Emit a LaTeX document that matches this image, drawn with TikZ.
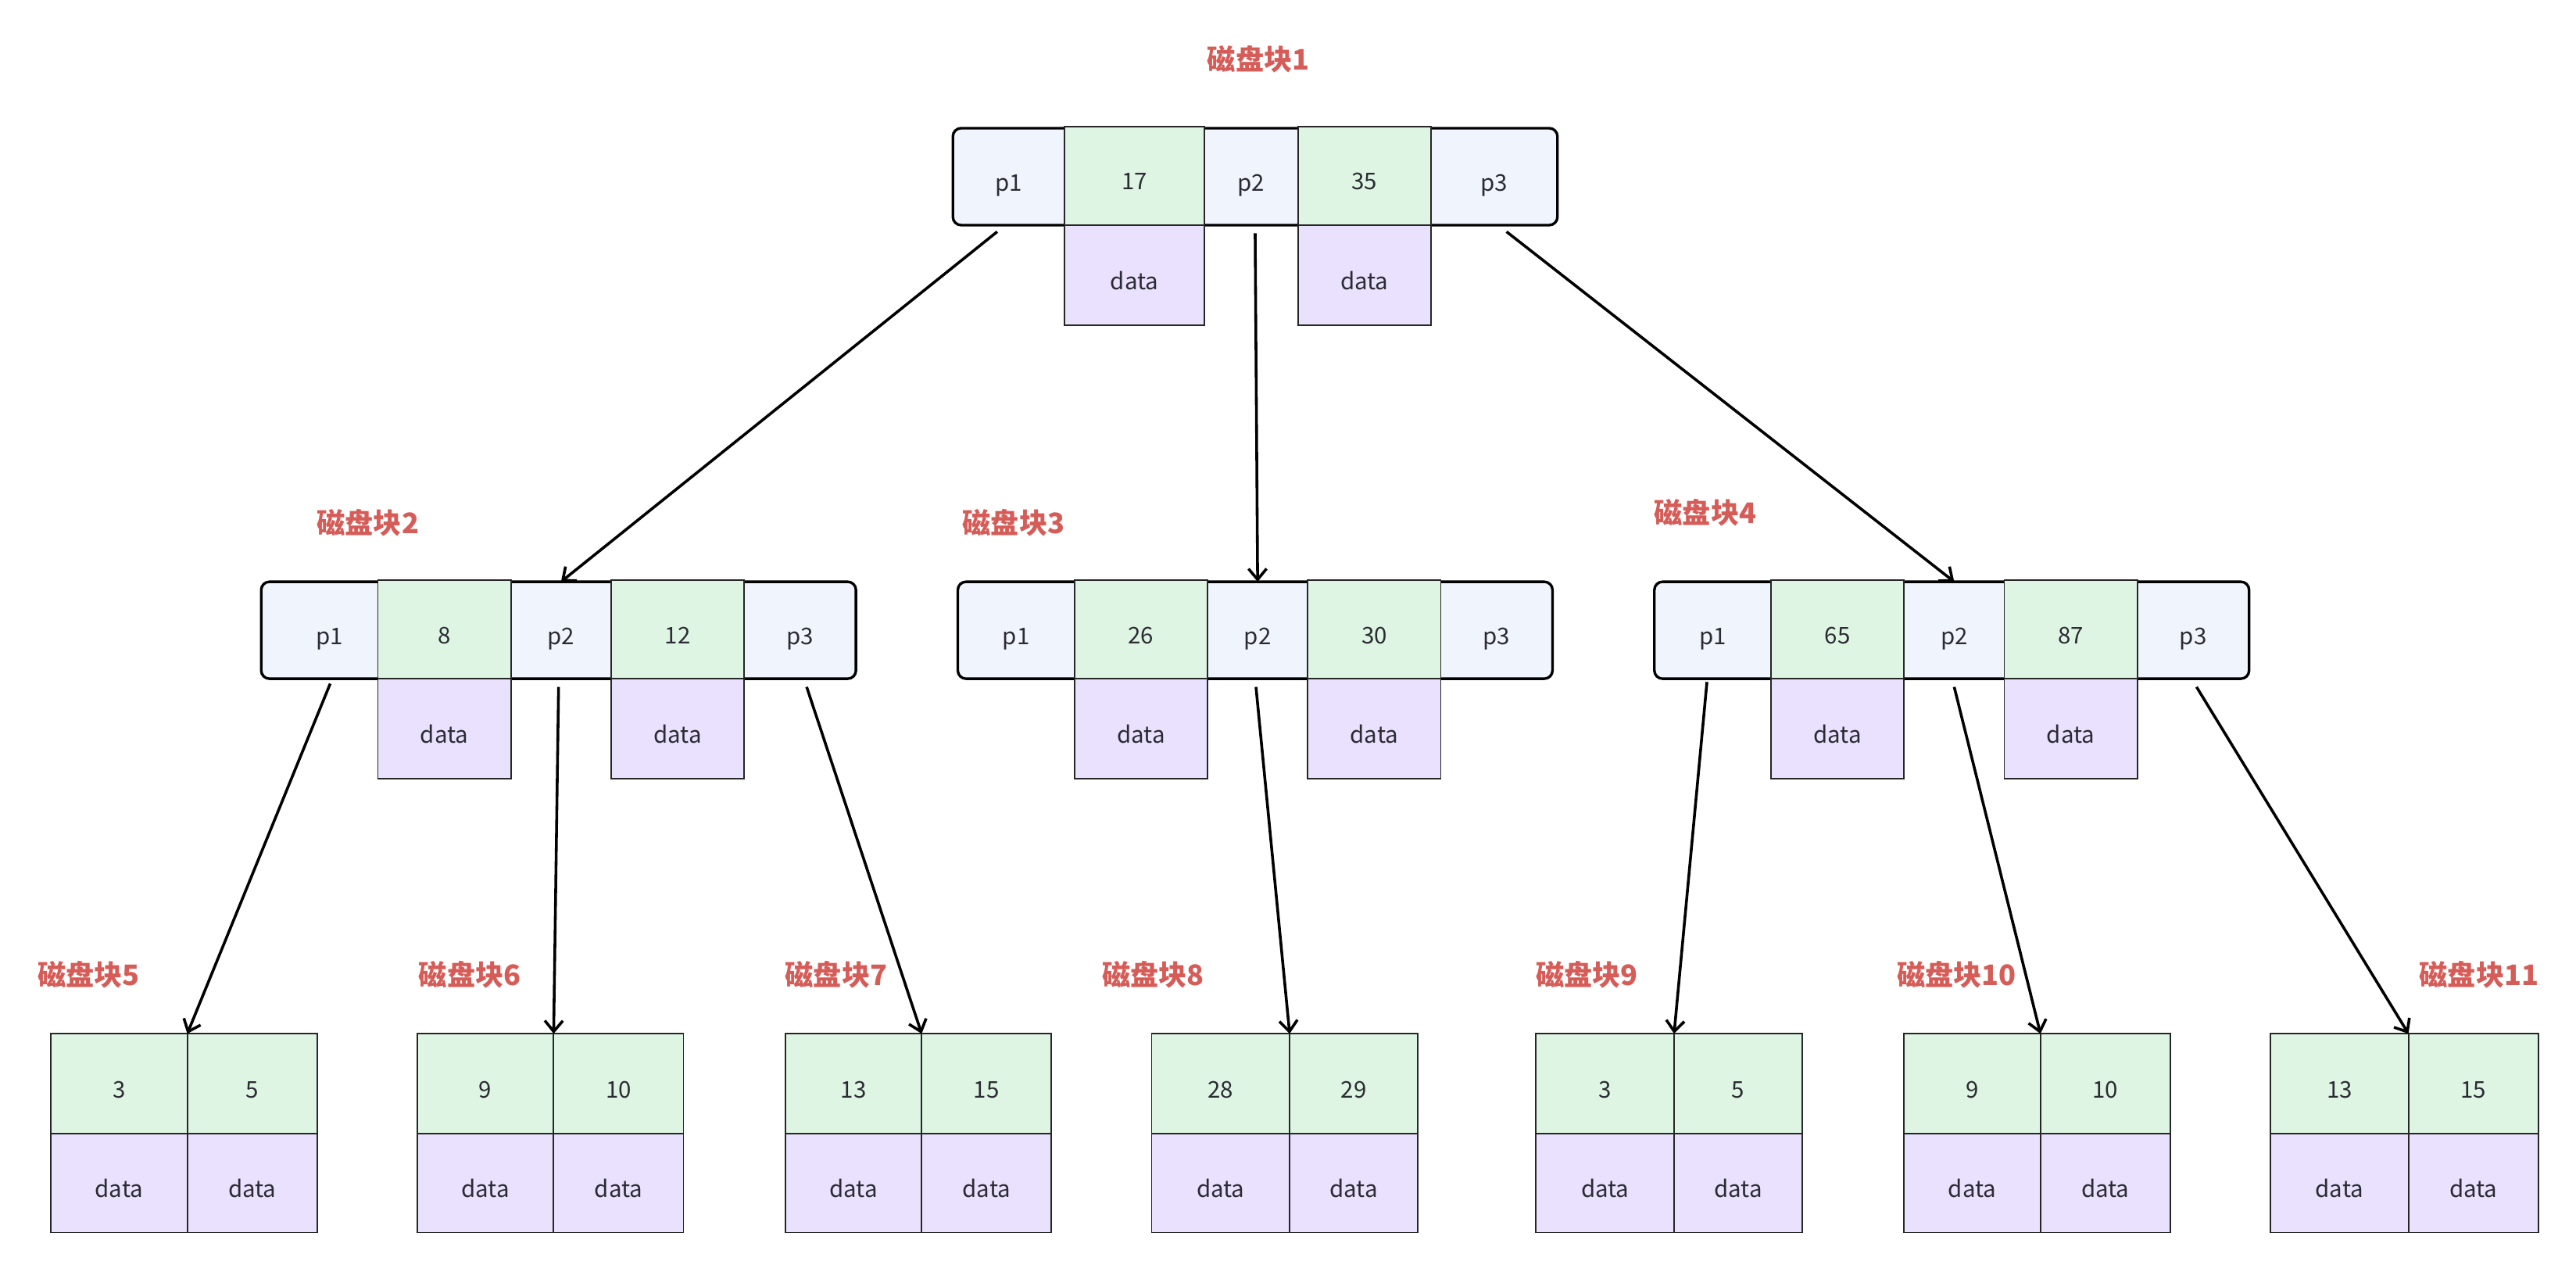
\documentclass[tikz,border=0pt]{standalone}
\usepackage{fontspec}
\setmainfont{Noto Sans CJK SC}
\usetikzlibrary{arrows.meta,backgrounds}
\definecolor{pcol}{HTML}{F0F4FC}
\definecolor{kcol}{HTML}{DFF5E4}
\definecolor{dcol}{HTML}{E9E1FD}
\definecolor{labcol}{HTML}{D65C58}
\definecolor{txtcol}{HTML}{2B2B33}
\tikzset{
  cellbase/.style={inner sep=0pt, outer sep=0pt, font=\fontsize{7}{8}\selectfont, text=txtcol, text height=0.9em, text depth=0.04em},
  pc/.style={cellbase, minimum height=29.5pt},
  kc/.style={cellbase, fill=kcol, draw=black!85, line width=0.45pt, minimum height=30pt},
  dc/.style={cellbase, fill=dcol, draw=black!85, line width=0.45pt, minimum height=30.5pt},
  lkc/.style={cellbase, fill=kcol, draw=black!85, line width=0.45pt, minimum height=30.5pt},
  ldc/.style={cellbase, fill=dcol, draw=black!85, line width=0.45pt, minimum height=30pt},
  outerbox/.style={fill=pcol, draw=black, line width=0.8pt, rounded corners=2.5pt},
  lab/.style={inner sep=0pt, font=\fontsize{8.6}{10}\selectfont\bfseries, text=labcol},
  arr/.style={draw=black, line width=0.85pt, -{Straight Barb[length=3.3pt,width=5.5pt]}},
}
\newcommand{\cellnode}[6]{\node[#1, minimum width={((#4)-(#3))*0.5pt}, anchor=north west] (#2) at ({#3},{#5}) {#6};}
\newcommand{\setoff}[5]{\def\oA{#1}\def\oB{#2}\def\oC{#3}\def\oD{#4}\def\oE{#5}}
\def\pAdj{0pt}
% internal node: id, x0, T, k1, k2
\newcommand{\inode}[5]{%
  \cellnode{pc}{#1-p1}{#2}{#2+\oA}{#3}{\hspace*{\pAdj}p1}
  \cellnode{kc}{#1-k1}{#2+\oA}{#2+\oB}{#3-1}{#4}
  \cellnode{pc}{#1-p2}{#2+\oB}{#2+\oC}{#3}{p2}
  \cellnode{kc}{#1-k2}{#2+\oC}{#2+\oD}{#3-1}{#5}
  \cellnode{pc}{#1-p3}{#2+\oD}{#2+\oE}{#3}{p3}
  \cellnode{dc}{#1-d1}{#2+\oA}{#2+\oB}{#3+59}{data}
  \cellnode{dc}{#1-d2}{#2+\oC}{#2+\oD}{#3+59}{data}
  \begin{scope}[on background layer]
    \draw[outerbox] (#1-p1.north west) rectangle (#1-p3.south east);
  \end{scope}
}
% leaf: id, x0, x1, x2, k1, k2
\newcommand{\leaf}[6]{%
  \cellnode{lkc}{#1-k1}{#2}{#3}{629}{#5}
  \cellnode{lkc}{#1-k2}{#3}{#4}{629}{#6}
  \cellnode{ldc}{#1-d1}{#2}{#3}{690}{data}
  \cellnode{ldc}{#1-d2}{#3}{#4}{690}{data}
}
\begin{document}
\begin{tikzpicture}[x=0.5pt,y=-0.5pt]
\useasboundingbox (0,0) rectangle (1568,774);
% top node
\setoff{68}{153}{210}{291}{368}
\inode{t}{580}{78}{17}{35}
% level 2
\setoff{71}{152}{213}{294}{362}
\def\pAdj{6pt}
\inode{a}{159}{354}{8}{12}
\def\pAdj{0pt}
\inode{b}{583}{354}{26}{30}
\inode{c}{1007}{354}{65}{87}
% leaves
\leaf{l5}{31}{114}{193}{3}{5}
\leaf{l6}{254}{337}{416}{9}{10}
\leaf{l7}{478}{561}{640}{13}{15}
\leaf{l8}{701}{785}{863}{28}{29}
\leaf{l9}{935}{1019}{1097}{3}{5}
\leaf{l10}{1159}{1242}{1321}{9}{10}
\leaf{l11}{1382}{1466}{1545}{13}{15}
% labels
\node[lab] (lab1) at (766,36) {磁盘块1};
\node[lab] (lab2) at (224,318) {磁盘块2};
\node[lab] (lab3) at (617,318) {磁盘块3};
\node[lab] (lab4) at (1038,312) {磁盘块4};
\node[lab] (lab5) at (54,593) {磁盘块5};
\node[lab] (lab6) at (286,593) {磁盘块6};
\node[lab] (lab7) at (509,593) {磁盘块7};
\node[lab] (lab8) at (702,593) {磁盘块8};
\node[lab] (lab9) at (966,593) {磁盘块9};
\node[lab] (lab10) at (1191,593) {磁盘块10};
\node[lab] (lab11) at (1509,593) {磁盘块11};
% arrows
\draw[arr] ([xshift=-3.5pt,yshift=-2pt]t-p1.south) -- (a-p2.north);
\draw[arr] ([xshift=1.25pt,yshift=-2.5pt]t-p2.south) -- (b-p2.north);
\draw[arr] ([xshift=3.75pt,yshift=-2pt]t-p3.south) -- (c-p2.north);
\draw[arr] ([xshift=3.25pt,yshift=-1.5pt]a-p1.south) -- (l5-k1.north east);
\draw[arr] ([xshift=-0.75pt,yshift=-2.5pt]a-p2.south) -- (l6-k1.north east);
\draw[arr] ([xshift=2pt,yshift=-2.5pt]a-p3.south) -- (l7-k1.north east);
\draw[arr] ([xshift=-0.5pt,yshift=-2.5pt]b-p2.south) -- (l8-k1.north east);
\draw[arr] ([xshift=-1.75pt,yshift=-1pt]c-p1.south) -- (l9-k1.north east);
\draw[arr] ([xshift=0pt,yshift=-2.5pt]c-p2.south) -- (l10-k1.north east);
\draw[arr] ([xshift=1pt,yshift=-2.5pt]c-p3.south) -- (l11-k1.north east);
\end{tikzpicture}
\end{document}
